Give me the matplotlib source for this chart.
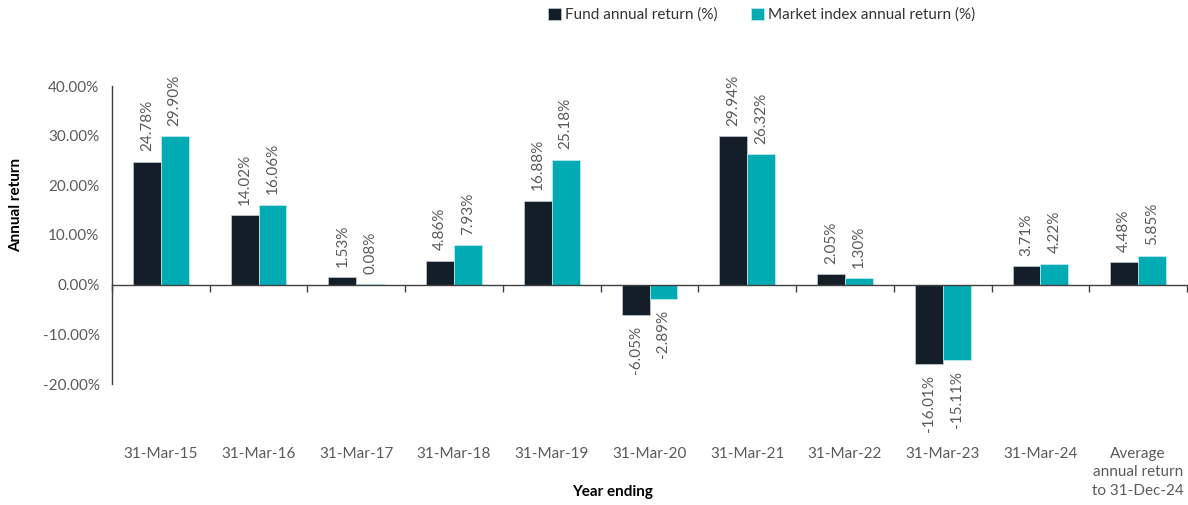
import matplotlib
matplotlib.use("Agg")
import matplotlib.pyplot as plt
import matplotlib.transforms as mtransforms
import numpy as np

categories = ["31-Mar-15", "31-Mar-16", "31-Mar-17", "31-Mar-18", "31-Mar-19",
              "31-Mar-20", "31-Mar-21", "31-Mar-22", "31-Mar-23", "31-Mar-24",
              "Average\nannual return\nto 31-Dec-24"]
fund = [24.78, 14.02, 1.53, 4.86, 16.88, -6.05, 29.94, 2.05, -16.01, 3.71, 4.48]
index = [29.90, 16.06, 0.08, 7.93, 25.18, -2.89, 26.32, 1.30, -15.11, 4.22, 5.85]
yticks = [-20, -10, 0, 10, 20, 30, 40]

plt.rcParams['font.family'] = ['Lato', 'DejaVu Sans']

fund_color = "#141e28"
index_color = "#00abb3"
grey = "#5a5a5a"
fs = 11

fig = plt.figure(figsize=(11.88, 5.05), dpi=100)
ax = fig.add_axes([112/1188, (505-384)/505, (1187-112)/1188, (384-86)/505])

x = np.arange(len(categories))
w = 0.285
b1 = ax.bar(x - w/2, fund, w, color=fund_color, edgecolor="#c8ccd0", linewidth=0.5,
            label="Fund annual return (%)")
b2 = ax.bar(x + w/2, index, w, color=index_color, edgecolor="#c8ecee", linewidth=0.5,
            label="Market index annual return (%)")

for bars, vals in ((b1, fund), (b2, index)):
    for bar, v in zip(bars, vals):
        cx = bar.get_x() + bar.get_width()/2
        if v >= 0:
            ax.annotate(f"{v:.2f}%", (cx, v), xytext=(0, 7.5), textcoords="offset points",
                        rotation=90, ha="center", va="bottom", fontsize=fs, color=grey)
        else:
            ax.annotate(f"{v:.2f}%", (cx, v), xytext=(0, -8), textcoords="offset points",
                        rotation=90, ha="center", va="top", fontsize=fs, color=grey)

ax.set_xlim(-0.5, len(categories) - 0.5)
ax.set_ylim(-20, 40)
ax.set_yticks(yticks)
ax.set_yticklabels([f"{t:.2f}%" for t in yticks], fontsize=fs, color=grey)
ax.tick_params(axis="y", length=0, pad=9)

ax.spines["top"].set_visible(False)
ax.spines["right"].set_visible(False)
ax.spines["left"].set_color("#404040")
ax.spines["left"].set_linewidth(1.0)
ax.spines["bottom"].set_position(("data", 0))
ax.spines["bottom"].set_color("#404040")
ax.spines["bottom"].set_linewidth(1.0)
ax.set_xticks(np.arange(len(categories) + 1) - 0.5)
ax.set_xticklabels([])
ax.tick_params(axis="x", direction="out", length=5, color="#404040", width=1)

trans = mtransforms.blended_transform_factory(ax.transData, fig.transFigure)
for xi, lab in zip(x, categories):
    ax.text(xi, (505-447)/505, lab, transform=trans, ha="center", va="top",
            fontsize=fs, color=grey, linespacing=1.4)

fig.text(613/1188, 1 - 492/505, "Year ending", ha="center", va="center",
         fontsize=fs, fontweight="bold", color="black")
fig.text(16/1188, 1 - 205/505, "Annual return", ha="center", va="center", rotation=90,
         fontsize=fs, fontweight="bold", color="black")

leg = fig.legend(handles=[b1, b2], loc="center", bbox_to_anchor=(762/1188, 1 - 15/505),
                 ncol=2, frameon=False, fontsize=fs, handlelength=0.8, handleheight=0.8,
                 handletextpad=0.3, columnspacing=2.2)
for t in leg.get_texts():
    t.set_color("#333333")

fig.savefig("out.png", dpi=100)
